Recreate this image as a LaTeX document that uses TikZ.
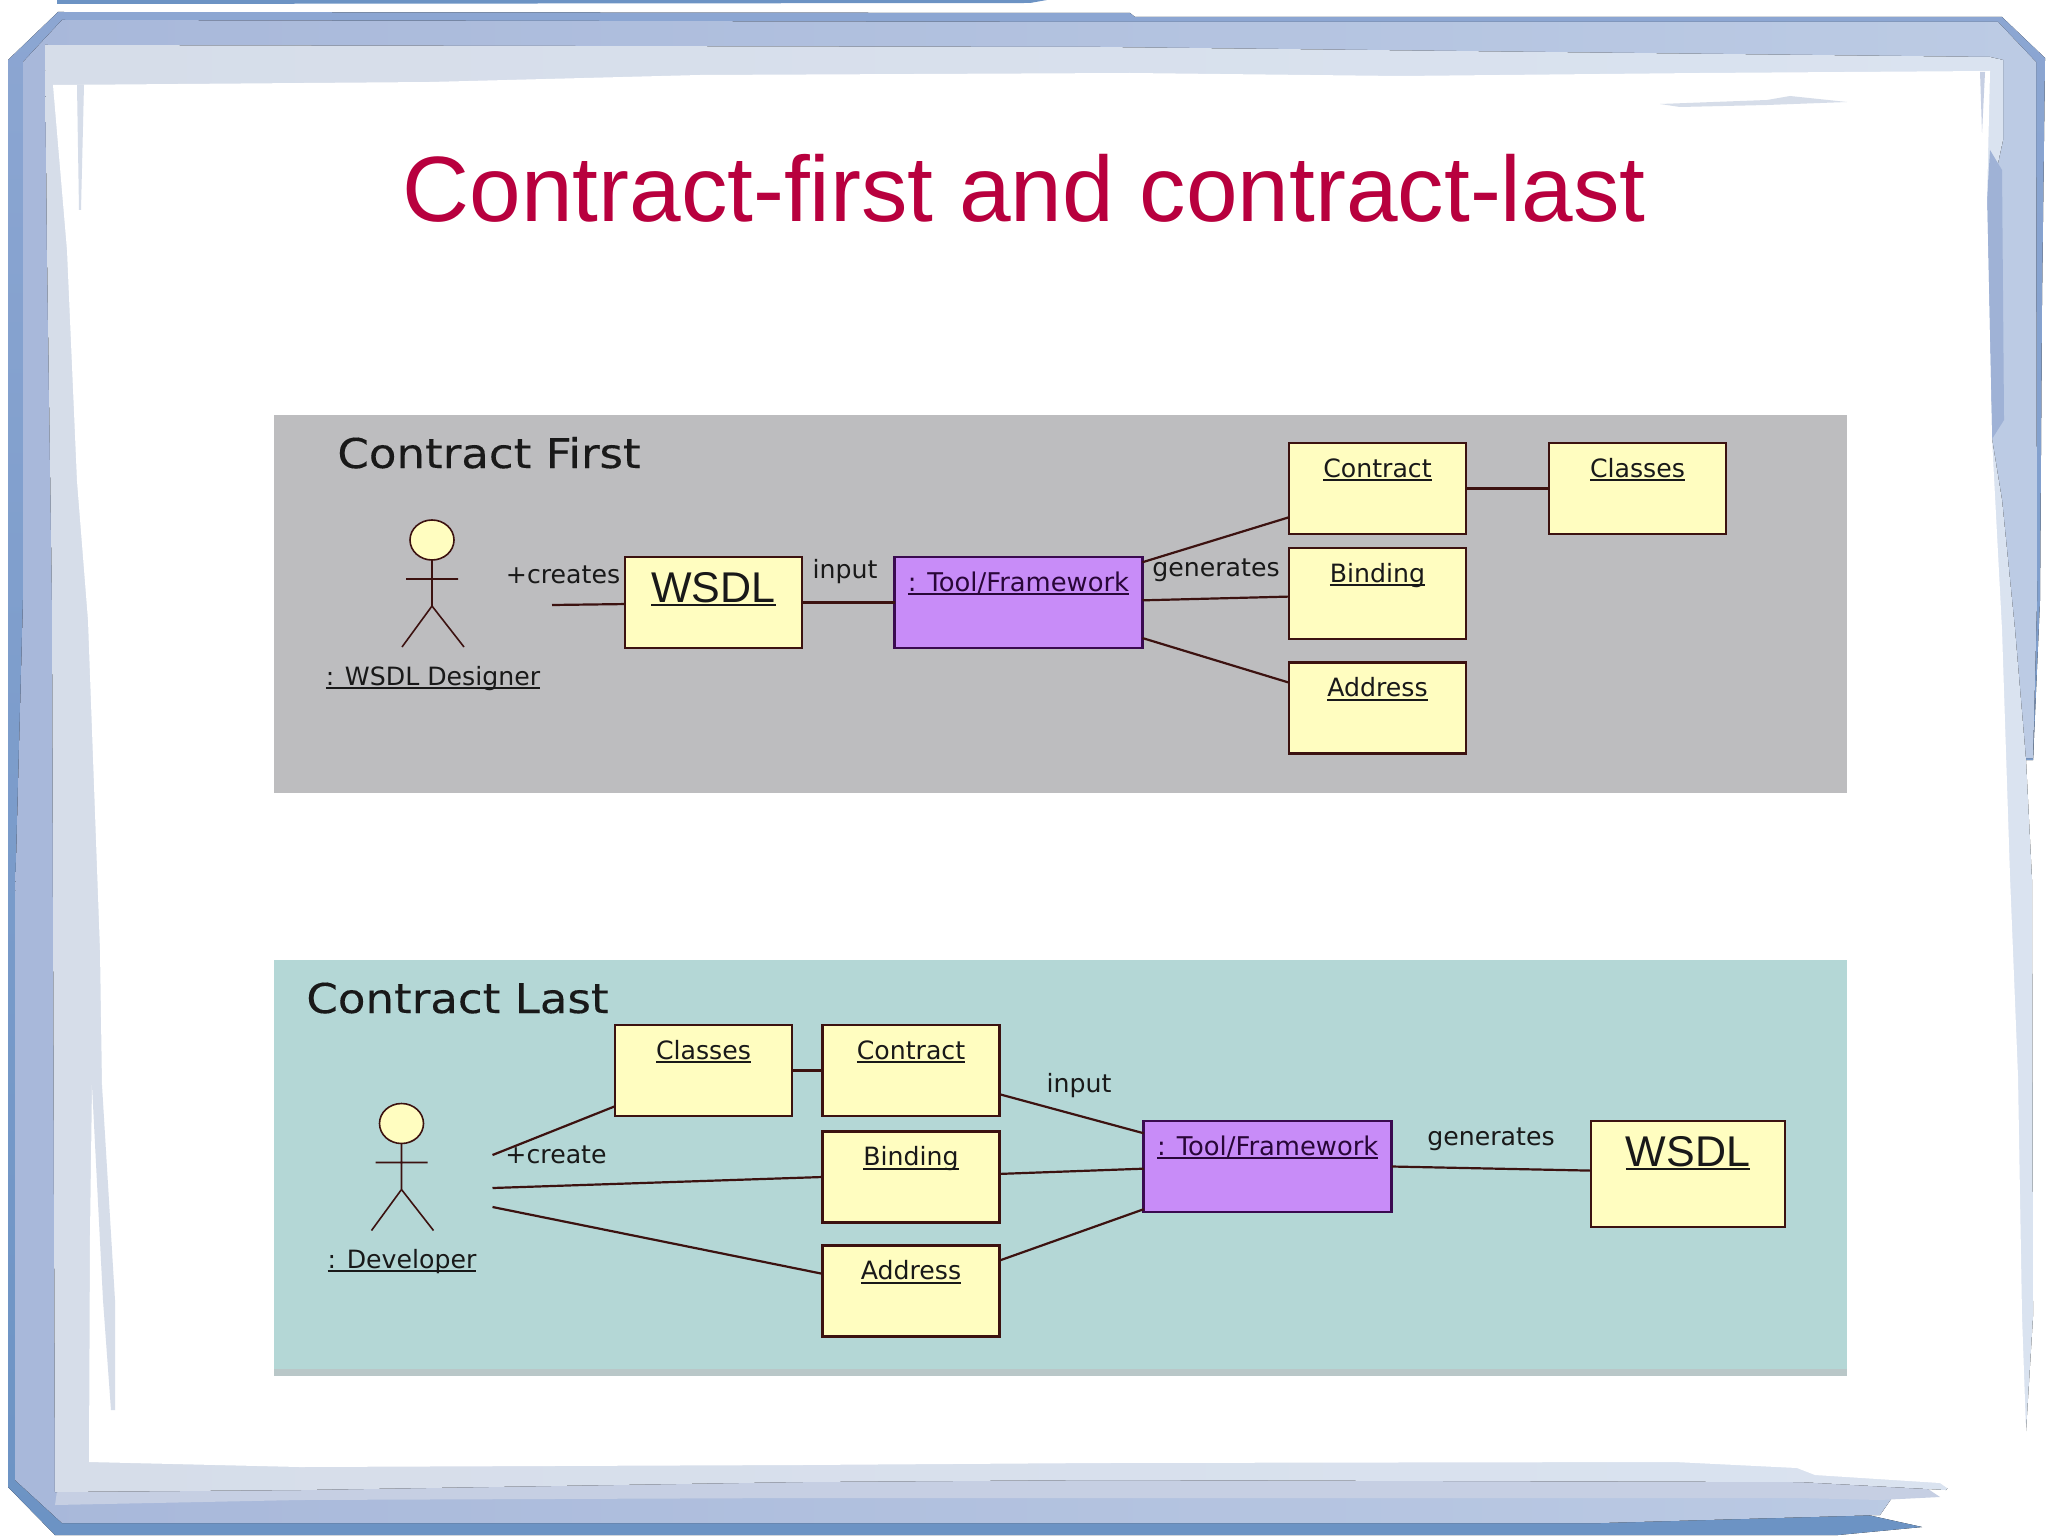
\documentclass[tikz,border=0pt]{standalone}
\usepackage{fontspec}
\setmainfont{Liberation Sans}
\newfontfamily\umlfont{DejaVu Sans}
\newfontfamily\panelfont[FakeStretch=1.1,FakeBold=0.25]{DejaVu Sans}
\usetikzlibrary{positioning}

\definecolor{frameDarkA}{HTML}{8CA6D2}
\definecolor{frameDarkB}{HTML}{6C93C4}
\definecolor{frameMidA}{HTML}{A8B8DA}
\definecolor{frameMidB}{HTML}{BCCBE4}
\definecolor{frameInner}{HTML}{9FB2D6}
\definecolor{frameSoft}{HTML}{C6CFE3}
\definecolor{frameLightA}{HTML}{D6DDE9}
\definecolor{frameLightB}{HTML}{DAE3F0}
\definecolor{slideTitle}{HTML}{B8003E}
\definecolor{panelGray}{HTML}{BDBDBF}
\definecolor{panelTeal}{HTML}{B4D7D6}
\definecolor{umlYellow}{HTML}{FFFDC0}
\definecolor{umlPurple}{HTML}{C88CF8}
\definecolor{umlLine}{HTML}{3C1210}
\definecolor{toolLine}{HTML}{3A0A50}

\newcommand{\umlul}[1]{\setbox0=\hbox{#1}\rlap{\rule[-2.2pt]{\wd0}{1pt}}\box0}

\tikzset{
    umlbox/.style={draw=umlLine,fill=umlYellow,line width=1.3pt,inner sep=0pt,outer sep=0pt,
        minimum width=88.5pt,minimum height=45.5pt,text height=17pt,text depth=28.5pt,
        text=black!90,font=\umlfont\fontsize{12.6}{15}\selectfont},
    toolbox/.style={umlbox,draw=toolLine,fill=umlPurple,minimum width=124pt,text=toolLine!70!black,
        font=\umlfont\fontsize{12.9}{15}\selectfont},
    wsdlbox/.style={umlbox,text height=22.5pt,text depth=23pt,
        font=\fontsize{21.5}{24}\selectfont},
    assoc/.style={draw=umlLine,line width=1.1pt},
    umltext/.style={anchor=base,inner sep=0pt,text=black!90,font=\umlfont\fontsize{12.6}{15}\selectfont},
    paneltitle/.style={anchor=base west,inner sep=0pt,text=black!90,font=\panelfont\fontsize{20.5}{24}\selectfont},
    pics/actor/.style={code={
        \draw[umlLine,line width=0.8pt,fill=umlYellow] (0,0) ellipse (22 and 20);
        \draw[umlLine,line width=0.8pt] (0,20) -- (0,66) (-26,39) -- (26,39)
            (-30,107) -- (0,66) -- (32,107);
    }}
}

\begin{document}
\begin{tikzpicture}[x=0.5pt,y=-0.5pt]
    \useasboundingbox (0,0) rectangle (2048,1535);

    % Frame
    \fill[frameDarkB] (57,0) -- (1047,0) -- (1030,3) -- (57,4) -- cycle;
    \fill[top color=frameDarkA,bottom color=frameDarkB] (58,12) -- (1130,13) -- (1135,17) -- (2002,17) -- (2045,58)
        -- (2042,300) -- (2040,600) -- (2033,760) -- (1960,760) -- (1960,1400) -- (1800,1500) -- (1922,1527)
        -- (1880,1531) -- (1838,1535) -- (55,1535) -- (8,1487) -- (8,60) -- cycle;
    \fill[left color=frameMidA,right color=frameMidB] (62,20) -- (1130,22) -- (1998,22) -- (2036,62) -- (2037,600)
        -- (2033,758) -- (1960,760) -- (1960,1400) -- (1880,1515) -- (1600,1523) -- (62,1523) -- (15,1480)
        -- (15,900) -- (23,600) -- (23,62) -- cycle;
    \fill[frameSoft] (60,1470) -- (1900,1470) -- (1940,1497) -- (1880,1500) -- (1800,1498) -- (800,1498)
        -- (300,1500) -- (55,1505) -- cycle;
    \fill[left color=frameLightA,right color=frameLightB] (45,45) -- (1100,47) -- (1990,57) -- (2003,60) -- (2003,140)
        -- (1990,200) -- (1992,439) -- (2002,500) -- (2015,630) -- (2026,760) -- (2032,880) -- (2033,1316)
        -- (2026,1431) -- (2000,1431) -- (1946,1490) -- (1800,1482) -- (1100,1480) -- (800,1482) -- (300,1490)
        -- (55,1492) -- (52,600) -- (47,250) -- cycle;
    \fill[frameInner] (1990,150) -- (2002,170) -- (2004,420) -- (1992,439) -- (1987,200) -- cycle;
    \fill[white] (53,85) -- (430,82) -- (700,75) -- (1130,73) -- (1400,76) -- (1700,73) -- (1990,71) -- (1987,200)
        -- (1992,439) -- (2002,630) -- (2010,877) -- (2018,1077) -- (2022,1316) -- (2026,1431) -- (2026,1470)
        -- (1950,1490) -- (1940,1483) -- (1815,1475) -- (1797,1468) -- (1675,1462) -- (1100,1463) -- (800,1465)
        -- (300,1467) -- (89,1462) -- (90,1235) -- (92,1085) -- (102,1085) -- (100,950) -- (88,620) -- (77,481)
        -- (67,250) -- cycle;
    \fill[frameLightA] (92,1085) -- (102,1085) -- (115,1300) -- (115,1410) -- (111,1410) -- (103,1300) -- cycle;
    \fill[frameLightA] (77,85) -- (84,85) -- (81,210) -- (79,210) -- cycle;
    \fill[frameLightA] (1660,104) -- (1767,100) -- (1790,96) -- (1847,102) -- (1767,105) -- (1680,107) -- cycle;
    \fill[frameSoft] (1980,72) -- (1985,72) -- (1982,133) -- cycle;

    % Title
    \node[anchor=base,inner sep=0pt,text=slideTitle,font=\fontsize{46.4}{50}\selectfont] (slidetitle) at (1024,222)
        {Contract-first and contract-last};

    % Contract first panel
    \fill[panelGray] (274,415) rectangle (1847,793);
    \node[paneltitle] (firsttitle) at (337,468) {Contract First};
    \pic at (432,540) {actor};
    \node[umltext] (designer) at (433,685) {\umlul{: WSDL Designer}};
    \node[wsdlbox] (wsdl1) at (713.5,602.5) {\umlul{WSDL}};
    \node[toolbox] (tool1) at (1018.5,602.5) {\umlul{: Tool/Framework}};
    \node[umlbox] (contract1) at (1377.5,488.5) {\umlul{Contract}};
    \node[umlbox] (classes1) at (1637.5,488.5) {\umlul{Classes}};
    \node[umlbox] (binding1) at (1377.5,593.5) {\umlul{Binding}};
    \node[umlbox] (address1) at (1377.5,708) {\umlul{Address}};
    \coordinate (designerend) at (552,605);

    \draw[assoc] (designerend) -- (wsdl1.181);
    \draw[assoc] (wsdl1.east) -- (tool1.west);
    \draw[assoc] (tool1.18) -- (contract1.198);
    \draw[assoc] (tool1.1) -- (binding1.182);
    \draw[assoc] (tool1.-16.5) -- (address1.164);
    \draw[assoc] (contract1.east) -- (classes1.west);

    \node[umltext] (creates) at (563,583) {+creates};
    \node[umltext] (input1) at (845,578) {input};
    \node[umltext] (generates1) at (1216,576) {generates};

    % Contract last panel
    \fill[panelTeal] (274,960) rectangle (1847,1376);
    \fill[panelGray!60!panelTeal] (274,1369) rectangle (1847,1376);
    \node[paneltitle] (lasttitle) at (306,1013) {Contract Last};
    \pic at (401.5,1123.5) {actor};
    \node[umltext] (developer) at (402,1268) {\umlul{: Developer}};
    \node[umlbox] (classes2) at (703.5,1070.5) {\umlul{Classes}};
    \node[umlbox] (contract2) at (911,1070.5) {\umlul{Contract}};
    \node[umlbox] (binding2) at (911,1177) {\umlul{Binding}};
    \node[umlbox] (address2) at (911,1291) {\umlul{Address}};
    \node[toolbox] (tool2) at (1267.75,1166.5) {\umlul{: Tool/Framework}};
    \node[wsdlbox,minimum width=97pt,minimum height=53pt,text depth=30.5pt] (wsdl2) at (1688,1174) {\umlul{WSDL}};
    \coordinate (devendA) at (492.5,1155);
    \coordinate (devendB) at (492.5,1188);
    \coordinate (devendC) at (492.5,1207);

    \draw[assoc] (devendA) -- (classes2.202);
    \draw[assoc] (devendB) -- (binding2.west);
    \draw[assoc] (devendC) -- (address2.169);
    \draw[assoc] (classes2.east) -- (contract2.west);
    \draw[assoc] (contract2.-15.6) -- (tool2.165);
    \draw[assoc] (binding2.2) -- (tool2.181);
    \draw[assoc] (address2.19.4) -- (tool2.199.3);
    \draw[assoc] (tool2.east) -- (wsdl2.178);

    \node[umltext] (create) at (556,1163) {+create};
    \node[umltext] (input2) at (1079,1092) {input};
    \node[umltext] (generates2) at (1491,1145) {generates};
\end{tikzpicture}
\end{document}
